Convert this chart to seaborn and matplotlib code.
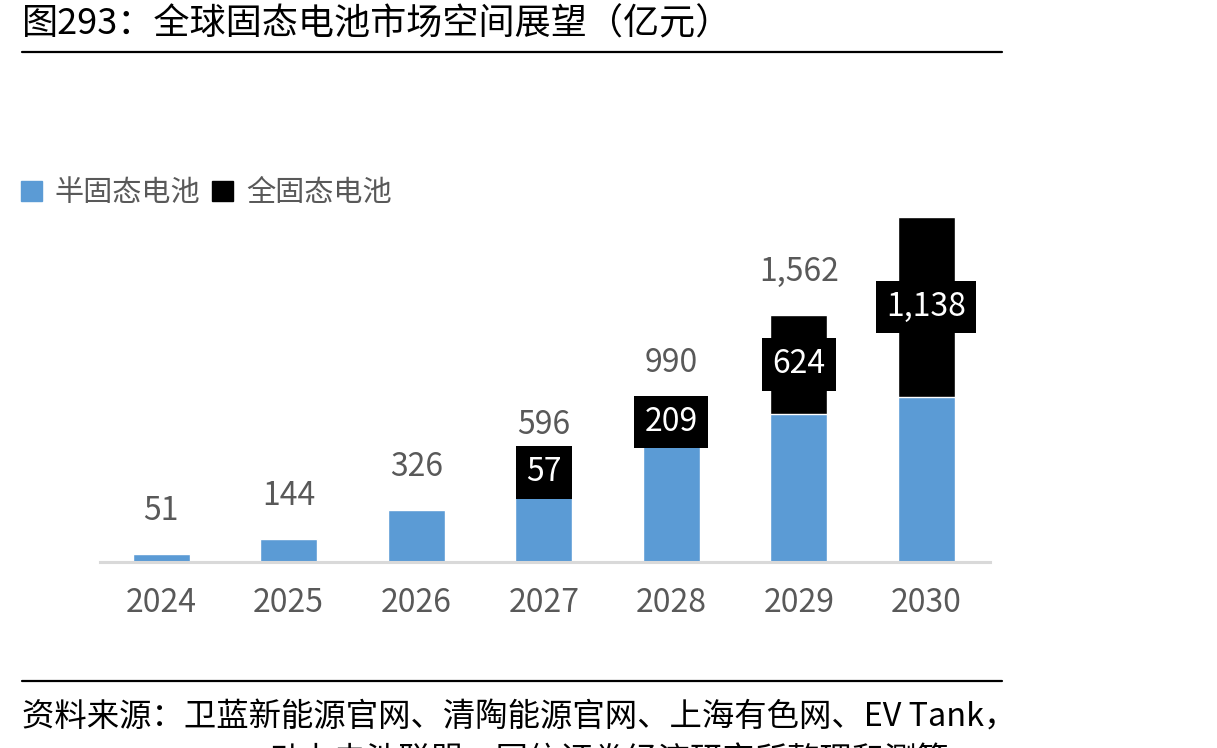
import matplotlib
matplotlib.use('Agg')
import matplotlib.pyplot as plt
import seaborn as sns
import pandas as pd
from matplotlib.lines import Line2D
from matplotlib.patches import Patch

# 数据（亿元）
years = ['2024', '2025', '2026', '2027', '2028', '2029', '2030']
semi_solid = [51, 144, 326, 539, 781, 938, 1045]
all_solid = [0, 0, 0, 57, 209, 624, 1138]
total_labels = ['51', '144', '326', '596', '990', '1,562', '']
all_labels = ['', '', '', '57', '209', '624', '1,138']

sns.set_theme(style='white')
plt.rcParams['font.family'] = ['Noto Sans CJK SC', 'DejaVu Sans']

df = pd.DataFrame({'year': years, 'semi': semi_solid, 'full': all_solid})
df['total'] = df['semi'] + df['full']

BLUE = '#5B9BD5'
GRAY = '#595959'

fig = plt.figure(figsize=(12.17, 7.48), dpi=100)
ax = fig.add_axes([0.0822, 0.2487, 0.8135 - 0.0822, 0.7326 - 0.2487])

# 堆叠：先画总量(黑)，再画半固态(蓝)
sns.barplot(data=df, x='year', y='total', color='black', width=0.45,
            saturation=1, ax=ax)
sns.barplot(data=df, x='year', y='semi', color=BLUE, width=0.45,
            saturation=1, ax=ax)

ax.set_xlim(-0.48, 6.5)
ax.set_ylim(0, 2291)

# 总量标签
for i, (t, lab) in enumerate(zip(df['total'], total_labels)):
    if lab:
        ax.annotate(lab, (i, t), xytext=(0, 31), textcoords='offset points',
                    ha='center', va='center', fontsize=23, color=GRAY)

# 全固态标签（黑底白字）
for i, (s, f, lab) in enumerate(zip(df['semi'], df['full'], all_labels)):
    if lab:
        ax.text(i, s + f / 2, lab, ha='center', va='center', fontsize=23,
                color='white',
                bbox=dict(boxstyle='square,pad=0.32', fc='black', ec='none'))

ax.set_xlabel('')
ax.set_ylabel('')
ax.set_yticks([])
for side in ['top', 'right', 'left']:
    ax.spines[side].set_visible(False)
ax.spines['bottom'].set_color('#D9D9D9')
ax.spines['bottom'].set_linewidth(2.2)
ax.tick_params(axis='x', length=0, pad=18, labelsize=23, labelcolor=GRAY)

# 图例
handles = [Patch(color=BLUE, label='半固态电池'), Patch(color='black', label='全固态电池')]
fig.legend(handles=handles, loc='center left', bbox_to_anchor=(0.008, 0.742),
           ncol=2, frameon=False, fontsize=21, labelcolor=GRAY,
           handlelength=0.7, handleheight=0.7, handletextpad=0.45,
           columnspacing=0.4, borderaxespad=0)

# 标题与来源
fig.text(0.018, 1 - 24 / 748, '图293：全球固态电池市场空间展望（亿元）',
         fontsize=26, color='black', va='center', ha='left')
fig.add_artist(Line2D([22 / 1217, 1002 / 1217], [1 - 52 / 748] * 2,
                      color='black', lw=1.6))
fig.add_artist(Line2D([22 / 1217, 1002 / 1217], [1 - 681 / 748] * 2,
                      color='black', lw=1.6))
fig.text(0.018, 1 - 718 / 748, '资料来源：卫蓝新能源官网、清陶能源官网、上海有色网、EV Tank，',
         fontsize=23.3, color='black', va='center', ha='left')
fig.text(269 / 1217, 1 - 762 / 748, '动力电池联盟，国信证券经济研究所整理和测算',
         fontsize=23.3, color='black', va='center', ha='left')

fig.savefig('out.png', dpi=100)
